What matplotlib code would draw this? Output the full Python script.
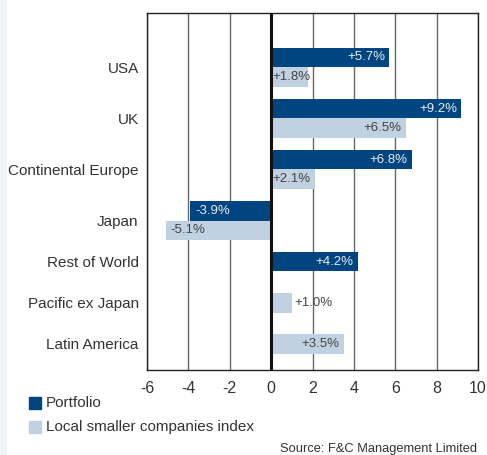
import matplotlib.pyplot as plt
from matplotlib.patches import Rectangle

plt.rcParams['font.family'] = ['Liberation Sans', 'DejaVu Sans']

regions = ["USA", "UK", "Continental Europe", "Japan",
           "Rest of World", "Pacific ex Japan", "Latin America"]
portfolio = [5.7, 9.2, 6.8, -3.9, 4.2, None, None]
local_index = [1.8, 6.5, 2.1, -5.1, None, 1.0, 3.5]
xticks = [-6, -4, -2, 0, 2, 4, 6, 8, 10]

navy = "#00457f"
light = "#c0d1e2"

fig = plt.figure(figsize=(4.87, 4.55), dpi=100)
fig.patches.append(Rectangle((0, 0), 6 / 487, 1, transform=fig.transFigure,
                             color="#eef3f7", zorder=0))
ax = fig.add_axes([147 / 487, 1 - 370 / 455, 331 / 487, 357 / 455])

# group centres: full groups (two bars) sit further apart than single-bar ones
centres = []
y = 0
for i in range(len(regions)):
    if i > 0:
        both = None not in (portfolio[i - 1], local_index[i - 1], portfolio[i], local_index[i])
        y += 51 if both else 41
    centres.append(y)

bar_h = 19.5


def label_bar(val, yc, colour):
    txt = f"{val:+.1f}%"
    if val < 0:
        ax.text(val + 0.25, yc, txt, ha="left", va="center", fontsize=9.5, color=colour)
    elif val >= 3:
        ax.text(val - 0.2, yc, txt, ha="right", va="center", fontsize=9.5, color=colour)
    elif val >= 1.5:
        ax.text(0.05, yc, txt, ha="left", va="center", fontsize=9.5, color=colour)
    else:
        ax.text(val + 0.1, yc, txt, ha="left", va="center", fontsize=9.5, color="#444444")


for yc, p, l in zip(centres, portfolio, local_index):
    if p is not None and l is not None:
        yp, yl = yc - bar_h / 2, yc + bar_h / 2
    else:
        yp = yl = yc
    if p is not None:
        ax.barh(yp, p, height=bar_h, color=navy, zorder=2)
        label_bar(p, yp, "#e6edf4")
    if l is not None:
        ax.barh(yl, l, height=bar_h, color=light, zorder=2)
        label_bar(l, yl, "#444444")

ax.set_xlim(-6, 10)
ax.set_ylim(centres[-1] + 26, -54)
ax.set_xticks(xticks)
ax.set_xticklabels([str(t) for t in xticks], fontsize=11.5, color="#333333")
ax.set_yticks(centres)
ax.set_yticklabels(regions, fontsize=11, color="#333333")
ax.tick_params(length=0, pad=6)
ax.tick_params(axis="x", pad=8)
for t in xticks:
    if t != 0:
        ax.axvline(t, color="#666666", lw=1, zorder=1)
ax.axvline(0, color="#111111", lw=2.2, zorder=3)
for s in ax.spines.values():
    s.set_color("#222222")
    s.set_linewidth(1)

# legend
fig.patches.append(Rectangle((29 / 487, 1 - 409 / 455), 12 / 487, 12 / 455,
                             transform=fig.transFigure, color=navy))
fig.text(46 / 487, 1 - 403 / 455, "Portfolio", fontsize=11, color="#333333", va="center")
fig.patches.append(Rectangle((29 / 487, 1 - 433 / 455), 12 / 487, 12 / 455,
                             transform=fig.transFigure, color=light))
fig.text(46 / 487, 1 - 427 / 455, "Local smaller companies index", fontsize=11,
         color="#333333", va="center")
fig.text(477 / 487, 1 - 449 / 455, "Source: F&C Management Limited", fontsize=9.3,
         color="#333333", ha="right", va="center")

fig.savefig("out.png", dpi=100)
